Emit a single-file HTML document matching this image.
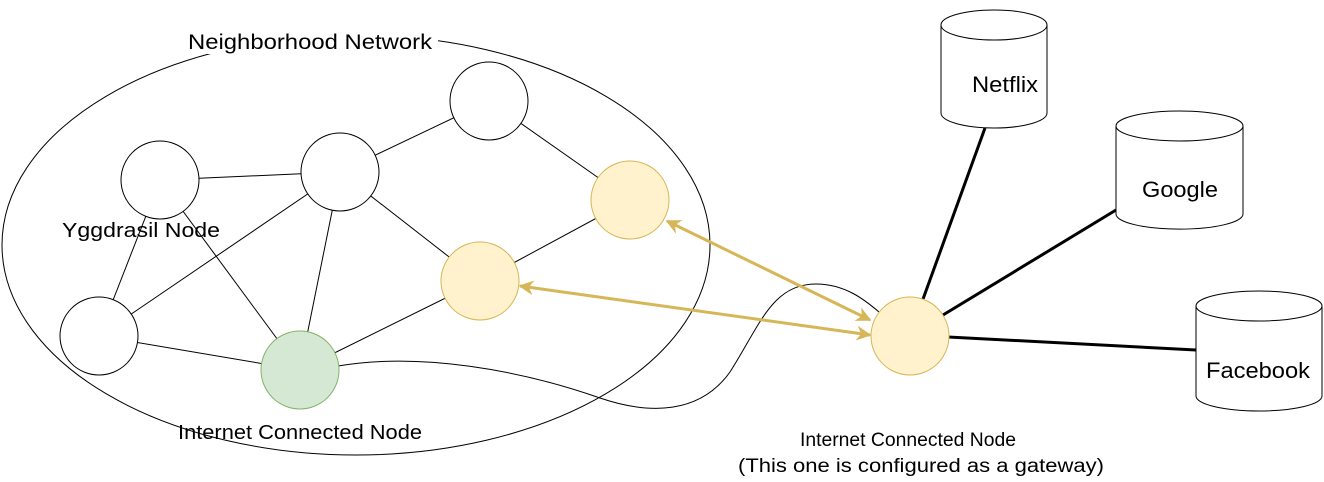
<!DOCTYPE html>
<html><head><style>
body{margin:0;background:#fff}
svg{display:block}
text{font-family:"Liberation Sans",Arial,sans-serif;fill:#000}
</style></head><body>
<svg width="1324" height="482" viewBox="0 0 1324 482" xmlns="http://www.w3.org/2000/svg">
<defs>
<marker id="ah" viewBox="0 0 10 10" refX="9" refY="5" markerWidth="5" markerHeight="5" orient="auto-start-reverse" markerUnits="strokeWidth">
<path d="M0,0 L10,5 L0,10 L3,5 z" fill="#d6b656"/>
</marker>
</defs>
<ellipse cx="356" cy="245" rx="354" ry="210" fill="none" stroke="#000" stroke-width="1"/>
<rect x="182" y="26" width="256" height="28" fill="#fff"/>
<text x="310" y="49" font-size="21" text-anchor="middle" textLength="244" lengthAdjust="spacingAndGlyphs">Neighborhood Network</text>
<g stroke="#000" stroke-width="1">
<line x1="160" y1="180" x2="340" y2="172"/>
<line x1="340" y1="172" x2="489" y2="101"/>
<line x1="489" y1="101" x2="630" y2="200"/>
<line x1="340" y1="172" x2="480" y2="281"/>
<line x1="160" y1="180" x2="99" y2="336"/>
<line x1="99" y1="336" x2="340" y2="172"/>
<line x1="160" y1="180" x2="300" y2="370"/>
<line x1="340" y1="172" x2="300" y2="370"/>
<line x1="99" y1="336" x2="300" y2="370"/>
<line x1="300" y1="370" x2="480" y2="281"/>
<line x1="480" y1="281" x2="630" y2="200"/>
</g>
<path d="M338,366 C420,352 520,370 600,398 C650,415 700,414 730,372 C760,325 772,284 816,284 C845,284 865,300 879,312" fill="none" stroke="#000" stroke-width="1"/>
<g stroke="#000" stroke-width="3">
<line x1="910" y1="335" x2="985" y2="128"/>
<line x1="910" y1="335" x2="1116" y2="210"/>
<line x1="910" y1="335" x2="1196" y2="350"/>
</g>
<g fill="#fff" stroke="#000" stroke-width="1">
<circle cx="160" cy="180" r="39"/>
<circle cx="340" cy="172" r="39"/>
<circle cx="489" cy="101" r="39"/>
<circle cx="99" cy="336" r="39"/>
</g>
<circle cx="630" cy="200" r="39" fill="#fff2cc" stroke="#d6b656"/>
<circle cx="480" cy="281" r="39" fill="#fff2cc" stroke="#d6b656"/>
<circle cx="300" cy="370" r="39" fill="#d5e8d4" stroke="#82b366"/>
<circle cx="910" cy="336" r="39" fill="#fff2cc" stroke="#d6b656"/>
<g stroke="#d6b656" stroke-width="3" fill="none">
<line x1="667" y1="221" x2="870" y2="320" marker-start="url(#ah)" marker-end="url(#ah)"/>
<line x1="520" y1="286" x2="870" y2="335" marker-start="url(#ah)" marker-end="url(#ah)"/>
</g>
<text x="141" y="237" font-size="20" text-anchor="middle" textLength="158" lengthAdjust="spacingAndGlyphs">Yggdrasil Node</text>
<text x="300" y="439" font-size="20" text-anchor="middle" textLength="244" lengthAdjust="spacingAndGlyphs">Internet Connected Node</text>
<text x="908" y="446" font-size="19" text-anchor="middle" textLength="216" lengthAdjust="spacingAndGlyphs">Internet Connected Node</text>
<text x="921" y="472" font-size="19" text-anchor="middle" textLength="366" lengthAdjust="spacingAndGlyphs">(This one is configured as a gateway)</text>
<g fill="#fff" stroke="#000" stroke-width="1">
<path d="M941,25 L941,113 A53,15 0 0 0 1047,113 L1047,25"/>
<ellipse cx="994" cy="25" rx="53" ry="15"/>
<path d="M1116,126 L1116,214 A63,15 0 0 0 1243,214 L1243,126"/>
<ellipse cx="1179.5" cy="126" rx="63.5" ry="15"/>
<path d="M1196,306 L1196,396 A63,15 0 0 0 1322,396 L1322,306"/>
<ellipse cx="1259" cy="306" rx="63" ry="15"/>
</g>
<text x="1005" y="92" font-size="22" text-anchor="middle" textLength="66" lengthAdjust="spacingAndGlyphs">Netflix</text>
<text x="1180" y="197" font-size="22" text-anchor="middle" textLength="76" lengthAdjust="spacingAndGlyphs">Google</text>
<text x="1258" y="378" font-size="22" text-anchor="middle" textLength="104" lengthAdjust="spacingAndGlyphs">Facebook</text>
</svg>
</body></html>
